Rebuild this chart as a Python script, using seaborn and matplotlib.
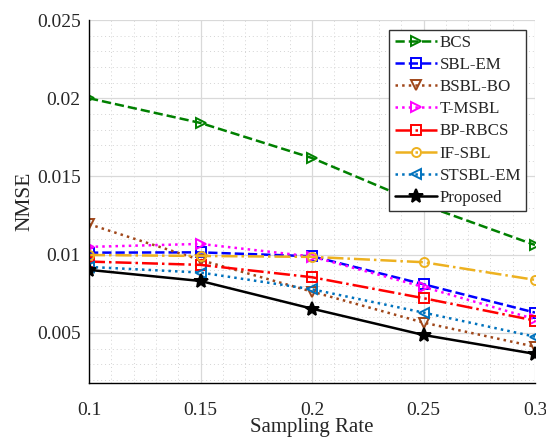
import matplotlib
matplotlib.use("Agg")
import matplotlib.pyplot as plt
from matplotlib.ticker import MultipleLocator
import numpy as np
import pandas as pd
import seaborn as sns

# Sampling rates on the x axis
sampling_rate = [0.10, 0.15, 0.20, 0.25, 0.30]
x_tick_labels = ["0.1", "0.15", "0.2", "0.25", "0.3"]
y_ticks = [0.005, 0.01, 0.015, 0.02, 0.025]
y_tick_labels = ["0.005", "0.01", "0.015", "0.02", "0.025"]

# NMSE of each recovery method
bcs = [0.0200, 0.01842, 0.01618, 0.01318, 0.01062]
sbl_em = [0.01013, 0.01015, 0.00990, 0.00811, 0.00630]
bsbl_bo = [0.01195, 0.00966, 0.00764, 0.00566, 0.00412]
t_msbl = [0.01050, 0.01069, 0.00988, 0.00794, 0.00588]
bp_rbcs = [0.00956, 0.00935, 0.00856, 0.00722, 0.00579]
if_sbl = [0.00998, 0.00992, 0.00986, 0.00952, 0.00839]
stsbl_em = [0.00922, 0.00886, 0.00779, 0.00630, 0.00476]
proposed = [0.00903, 0.00832, 0.00655, 0.00487, 0.00366]

methods = ["BCS", "SBL-EM", "BSBL-BO", "T-MSBL", "BP-RBCS", "IF-SBL", "STSBL-EM", "Proposed"]
values = [bcs, sbl_em, bsbl_bo, t_msbl, bp_rbcs, if_sbl, stsbl_em, proposed]

df = pd.DataFrame({
    "rate": np.tile(sampling_rate, len(methods)),
    "nmse": np.concatenate(values),
    "method": np.repeat(methods, len(sampling_rate)),
})

styles = {
    "BCS":      dict(color="#008000", marker=">", ls="--"),
    "SBL-EM":   dict(color="#0000FF", marker="s", ls="--"),
    "BSBL-BO":  dict(color="#A0471A", marker="v", ls=":"),
    "T-MSBL":   dict(color="#FF00FF", marker=">", ls=":"),
    "BP-RBCS":  dict(color="#FF0000", marker="s", ls="-."),
    "IF-SBL":   dict(color="#EDB120", marker="o", ls="-."),
    "STSBL-EM": dict(color="#0072BD", marker="<", ls=":"),
    "Proposed": dict(color="#000000", marker="*", ls="-"),
}

sns.set_style("white")
plt.rcParams["font.family"] = ["Liberation Serif", "DejaVu Serif"]

fig, ax = plt.subplots(figsize=(5.46, 4.40), dpi=100)
fig.subplots_adjust(left=89 / 546, right=535 / 546, top=1 - 20 / 440, bottom=1 - 383 / 440)

for m in methods:
    st = styles[m]
    filled = m == "Proposed"
    sns.lineplot(
        data=df[df["method"] == m], x="rate", y="nmse", ax=ax,
        color=st["color"], linestyle=st["ls"], linewidth=1.8,
        marker=st["marker"], markersize=10 if filled else 6.5,
        markerfacecolor=st["color"] if filled else "none",
        markeredgecolor=st["color"], markeredgewidth=1.4,
        label=m, errorbar=None,
    )

ax.set_xlim(0.1, 0.3)
ax.set_ylim(0.0018, 0.025)
ax.xaxis.set_minor_locator(MultipleLocator(0.01))
ax.yaxis.set_minor_locator(MultipleLocator(0.001))
ax.set_xticks(sampling_rate)
ax.set_xticklabels(x_tick_labels)
ax.set_yticks(y_ticks)
ax.set_yticklabels(y_tick_labels)

ax.grid(which="major", color="#d9d9d9", linewidth=0.9, linestyle="-")
ax.grid(which="minor", color="#d4d4d4", linewidth=0.7, linestyle=(0, (1, 3)))
ax.set_axisbelow(True)
for side in ["top", "right"]:
    ax.spines[side].set_visible(False)
for side in ["left", "bottom"]:
    ax.spines[side].set_color("black")
    ax.spines[side].set_linewidth(1.0)
ax.tick_params(which="both", length=0, labelsize=14, colors="#262626")
ax.tick_params(axis="x", pad=14)
ax.tick_params(axis="y", pad=6)

ax.set_xlabel("Sampling Rate", fontsize=15, color="#262626", labelpad=-1)
ax.set_ylabel("NMSE", fontsize=15.5, color="#262626", labelpad=2)

leg = ax.legend(
    loc="upper right", bbox_to_anchor=(526 / 546, 1 - 30 / 440),
    bbox_transform=fig.transFigure, fontsize=12.2, frameon=True,
    fancybox=False, edgecolor="#333333", framealpha=1,
    handlelength=2.5, handletextpad=0.15, labelspacing=0.36,
    borderpad=0.3, borderaxespad=0,
)
leg.get_frame().set_linewidth(1.0)

fig.savefig("out.png", dpi=100)
